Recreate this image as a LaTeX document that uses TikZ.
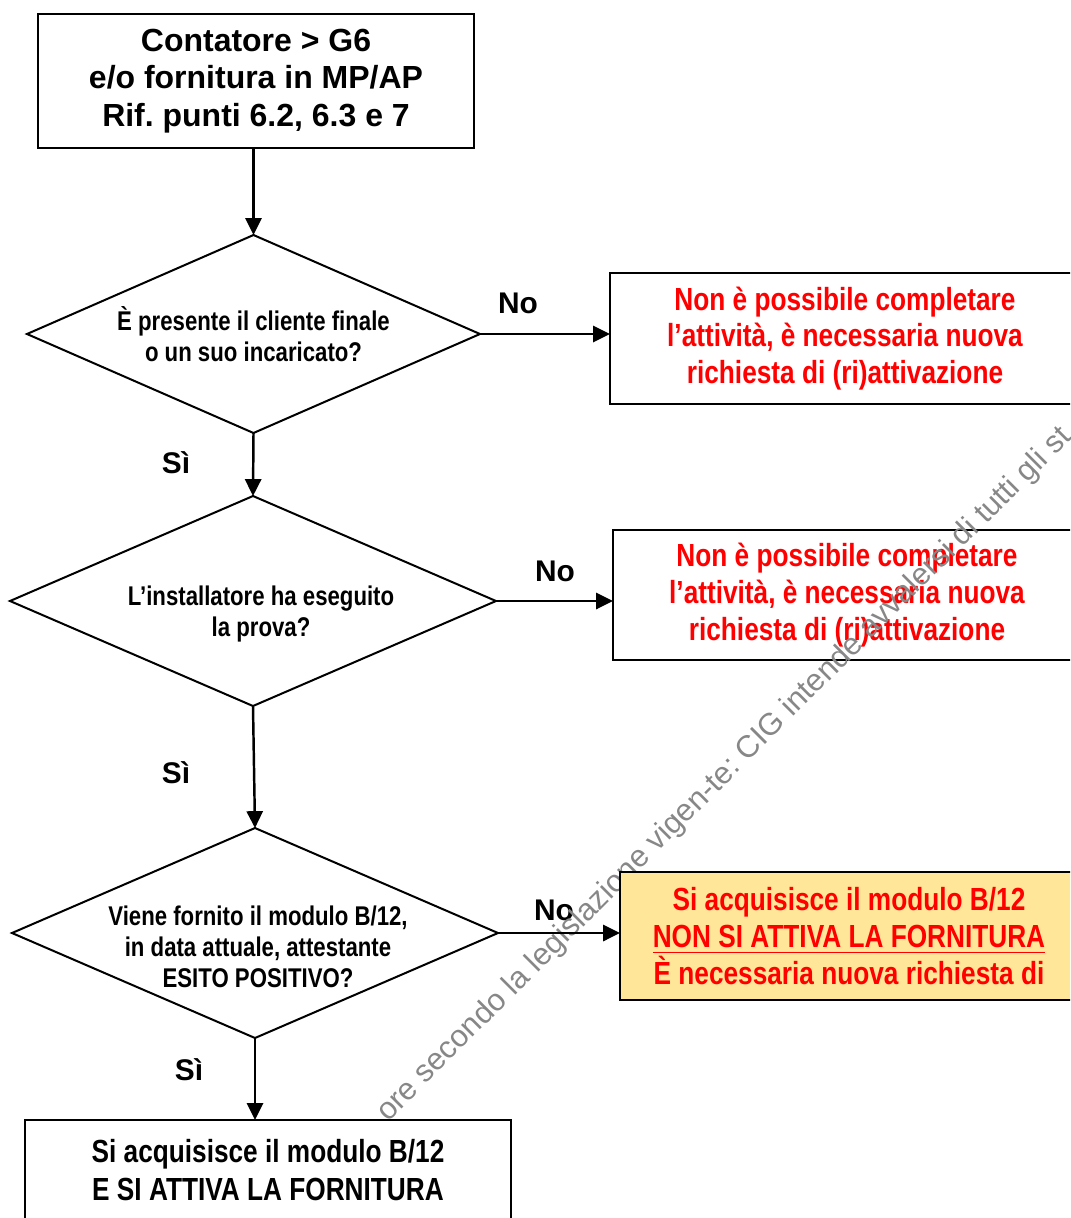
\documentclass[tikz,border=0pt]{standalone}
\usepackage{fontspec}
\setmainfont{Liberation Sans}
\newfontfamily\narrowfont[FakeStretch=0.82]{Liberation Sans}
\usepackage{tikz}
\usetikzlibrary{arrows.meta,shapes.geometric}
\definecolor{R}{RGB}{255, 0, 0}
\definecolor{Y}{RGB}{255, 230, 153}
\definecolor{W}{RGB}{135, 135, 135}
\frenchspacing

\tikzset{
  base/.style={draw, line width=0.57pt, inner sep=0pt, outer sep=0pt, align=center},
  startbox/.style={base, rectangle, font=\bfseries\fontsize{9.1}{10.7}\selectfont},
  stopbox/.style={base, rectangle, text=R, font=\narrowfont\bfseries\fontsize{9.1}{10.5}\selectfont},
  donebox/.style={base, rectangle, fill=white, font=\narrowfont\bfseries\fontsize{9.1}{10.8}\selectfont},
  decision/.style={base, diamond},
  qtext/.style={align=center, inner sep=0pt, font=\narrowfont\bfseries\fontsize{7.7}{8.8}\selectfont},
  answer/.style={inner sep=0pt, font=\bfseries\fontsize{8.5}{10}\selectfont},
  wmark/.style={inner sep=0pt, text=W, font=\fontsize{8.8}{10}\selectfont},
  flow/.style={line width=0.7pt, -{Triangle[length=4.8pt, width=4.6pt]}}
}

\begin{document}
\begin{tikzpicture}
  \useasboundingbox (0,0) rectangle (10.7,-12.18);
  \clip (0,0) rectangle (10.7,-12.18);

  % start and questions
  \node[startbox, minimum width=4.36cm, minimum height=1.34cm] (start) at (2.56,-0.81)
    {Contatore > G6\\e/o fornitura in MP/AP\\Rif. punti 6.2, 6.3 e 7};
  \node[decision, minimum width=4.53cm, minimum height=1.98cm,
    label={[qtext]center:{È presente il cliente finale\\o un suo incaricato?}}] (q1) at (2.535,-3.34) {};
  \node[decision, minimum width=4.86cm, minimum height=2.10cm,
    label={[qtext, xshift=0.08cm, yshift=-0.13cm]center:{L’installatore ha eseguito\\la prova?}}] (q2) at (2.53,-6.01) {};
  \node[decision, minimum width=4.86cm, minimum height=2.10cm,
    label={[qtext, xshift=0.03cm, yshift=-0.14cm]center:{Viene fornito il modulo B/12,\\in data attuale, attestante\\ESITO POSITIVO?}}] (q3) at (2.55,-9.33) {};

  % no branches
  \node[stopbox, minimum width=4.70cm, minimum height=1.31cm] (stop1) at (8.45,-3.385)
    {Non è possibile completare\\l’attività, è necessaria nuova\\richiesta di (ri)attivazione};
  \node[stopbox, minimum width=4.68cm, minimum height=1.30cm] (stop2) at (8.47,-5.95)
    {Non è possibile completare\\l’attività, è necessaria nuova\\richiesta di (ri)attivazione};

  % answers
  \node[answer] (no1) at (5.18,-3.03) {No};
  \node[answer] (yes1) at (1.76,-4.63) {Sì};
  \node[answer] (no2) at (5.55,-5.71) {No};
  \node[answer] (yes2) at (1.76,-7.73) {Sì};
  \node[answer] (no3) at (5.54,-9.10) {No};
  \node[answer] (yes3) at (1.89,-10.70) {Sì};

  % watermark
  \node[wmark, rotate=45, anchor=base west] (wm) at (3.876,-11.23)
    {ore secondo la legislazione vigen-te: CIG intende avvalersi di tutti gli st};

  \node[stopbox, fill=Y, minimum width=4.58cm, minimum height=1.28cm] (fail) at (8.49,-9.36)
    {Si acquisisce il modulo B/12\\\underline{NON SI ATTIVA LA FORNITURA}\\È necessaria nuova richiesta di};
  \node[donebox, minimum width=4.86cm, minimum height=1.00cm] (done) at (2.68,-11.70)
    {Si acquisisce il modulo B/12\\E SI ATTIVA LA FORNITURA};

  % arrows
  \draw[flow] (q1.north |- start.south) -- (q1.north);
  \draw[flow] (q1.east) -- (q1.east -| stop1.west);
  \draw[flow] (q1.south) -- (q2.north);
  \draw[flow] (q2.east) -- (q2.east -| stop2.west);
  \draw[flow] (q2.south) -- (q3.north);
  \draw[flow] (q3.east) -- (q3.east -| fail.west);
  \draw[flow] (q3.south) -- (q3.south |- done.north);
\end{tikzpicture}
\end{document}
